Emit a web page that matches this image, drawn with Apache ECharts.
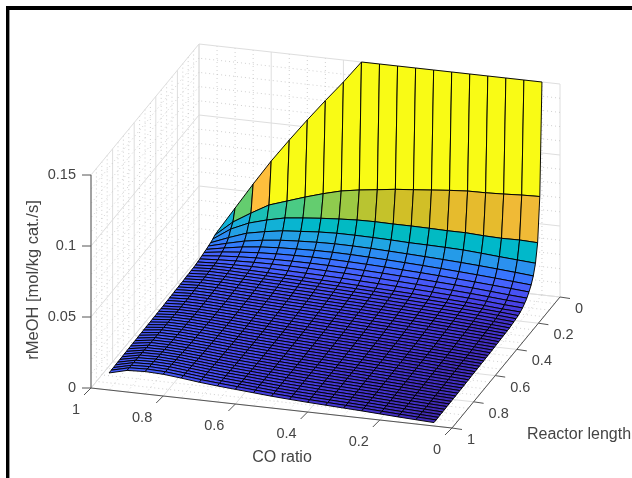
<!DOCTYPE html>
<html><head><meta charset="utf-8">
<style>html,body{margin:0;padding:0;background:#fff}#c{width:632px;height:478px;filter:blur(0.35px)}</style>
<script src="https://cdn.jsdelivr.net/npm/echarts@6/dist/echarts.min.js"></script>
</head><body><div id="c"></div>
<script>
const coRatio=[.05,.1,.15,.2,.25,.3,.35,.4,.45,.5,.55,.6,.65,.7,.75,.8,.85,.9,.95];
const r000=[.15,.15,.15,.15,.15,.15,.15,.15,.15,.15,.15,.1345,.12,.105,.0894,.0732,.0556,.0373,.019];
const r002=[.0712,.0708,.0701,.0696,.0694,.0685,.0673,.0661,.065,.0633,.0617,.0596,.0563,.0525,.0483,.0441,.037,.0293,.0187];
const r004=[.0405,.041,.0408,.0412,.0419,.0419,.0422,.0424,.0424,.0426,.0424,.0417,.0408,.0396,.0382,.0354,.0318,.0262,.0177];
const r006=[.0279,.0288,.0297,.0307,.0316,.032,.0323,.0325,.033,.0333,.0335,.0335,.033,.032,.031,.029,.0265,.022,.017];
const r008=[.0208,.0219,.0229,.0238,.0246,.0253,.0259,.0265,.027,.0275,.0278,.0279,.0276,.027,.0262,.0248,.0228,.0198,.0165];
const r010=[.0163,.0173,.0183,.0192,.02,.0208,.0215,.0221,.0227,.0232,.0236,.0238,.0237,.0233,.0228,.0219,.0205,.0184,.016];
const r012=[.0132,.0142,.0151,.016,.0168,.0176,.0183,.0189,.0195,.02,.0204,.0207,.0208,.0206,.0203,.0197,.0187,.0174,.0157];
const r014=[.0107,.0116,.0126,.0136,.0144,.0151,.0158,.0164,.017,.0175,.0179,.0182,.0184,.0184,.0182,.0179,.0173,.0164,.0152];
const r016=[.0089,.0097,.0107,.0116,.0124,.0131,.0138,.0144,.015,.0155,.016,.0163,.0166,.0168,.0168,.0166,.0162,.0156,.0148];
const r018=[.0075,.0083,.0093,.0102,.0109,.0116,.0122,.0128,.0133,.0138,.0143,.0147,.015,.0153,.0155,.0155,.0153,.0151,.0145];
const r020=[.0065,.0072,.0082,.009,.0097,.0103,.0109,.0114,.0119,.0125,.013,.0134,.0138,.0141,.0144,.0147,.015,.015,.0142];
const r022=[.0058,.0068,.0077,.0085,.0092,.0098,.0104,.0109,.0115,.012,.0125,.0129,.0134,.0138,.0141,.0144,.0148,.0149,.0141];
const r024=[.0054,.0064,.0073,.0081,.0088,.0094,.01,.0105,.0111,.0116,.0121,.0126,.013,.0135,.0138,.0142,.0146,.0148,.014];
const r026=[.0051,.006,.0069,.0077,.0084,.009,.0096,.0102,.0107,.0112,.0118,.0123,.0127,.0132,.0136,.014,.0144,.0146,.0139];
const r028=[.0048,.0057,.0066,.0074,.0081,.0087,.0093,.0099,.0104,.0109,.0115,.012,.0124,.0129,.0134,.0138,.0143,.0145,.0138];
const r030=[.0045,.0054,.0063,.0071,.0078,.0085,.0091,.0096,.0102,.0107,.0112,.0117,.0122,.0127,.0132,.0137,.0142,.0144,.0137];
const r032=[.0044,.0053,.0061,.0069,.0076,.0083,.0089,.0094,.01,.0105,.011,.0115,.012,.0125,.013,.0135,.0141,.0143,.0136];
const r034=[.0043,.0052,.006,.0068,.0075,.0081,.0087,.0092,.0098,.0103,.0108,.0113,.0118,.0123,.0129,.0134,.014,.0142,.0136];
const r036=[.0042,.0051,.0059,.0066,.0073,.0079,.0085,.0091,.0096,.0101,.0106,.0112,.0117,.0122,.0127,.0133,.0139,.0142,.0135];
const r038=[.0041,.005,.0058,.0065,.0072,.0078,.0084,.0089,.0095,.01,.0105,.011,.0115,.0121,.0126,.0132,.0138,.0141,.0135];
const r040=[.004,.0049,.0056,.0063,.007,.0076,.0082,.0087,.0093,.0098,.0103,.0108,.0114,.012,.0126,.0131,.0137,.014,.0134];
const r042=[.0039,.0047,.0055,.0062,.0068,.0074,.008,.0086,.0091,.0096,.0102,.0107,.0113,.0119,.0125,.013,.0137,.014,.0133];
const r044=[.0038,.0046,.0054,.006,.0067,.0073,.0079,.0084,.009,.0095,.01,.0106,.0112,.0118,.0124,.013,.0136,.0139,.0132];
const r046=[.0037,.0045,.0053,.0059,.0065,.0071,.0077,.0083,.0088,.0093,.0099,.0105,.0111,.0117,.0124,.013,.0136,.0138,.0132];
const r048=[.0036,.0044,.0051,.0058,.0064,.007,.0076,.0081,.0087,.0092,.0097,.0103,.011,.0117,.0124,.013,.0135,.0138,.0131];
const r050=[.0035,.0042,.005,.0056,.0062,.0068,.0074,.008,.0085,.009,.0096,.0102,.0109,.0116,.0124,.013,.0135,.0137,.013];
const r052=[.0035,.0042,.0049,.0056,.0062,.0067,.0073,.0079,.0084,.0089,.0095,.0101,.0108,.0115,.0123,.013,.0136,.0138,.013];
const r054=[.0034,.0041,.0048,.0055,.0061,.0067,.0073,.0078,.0083,.0089,.0095,.0101,.0108,.0115,.0123,.013,.0136,.0138,.013];
const r056=[.0034,.0041,.0048,.0054,.006,.0066,.0072,.0078,.0083,.0088,.0094,.01,.0107,.0115,.0123,.0131,.0137,.0139,.0129];
const r058=[.0033,.004,.0047,.0054,.006,.0066,.0071,.0077,.0082,.0088,.0094,.01,.0107,.0115,.0123,.0131,.0138,.0139,.0129];
const r060=[.0033,.004,.0047,.0053,.0059,.0065,.0071,.0076,.0081,.0087,.0093,.01,.0107,.0114,.0124,.0132,.0138,.014,.0129];
const r062=[.0032,.0039,.0046,.0053,.0059,.0065,.007,.0076,.0081,.0087,.0093,.0099,.0106,.0114,.0124,.0132,.0139,.014,.0128];
const r064=[.0032,.0038,.0045,.0052,.0058,.0064,.007,.0075,.008,.0086,.0092,.0099,.0106,.0114,.0124,.0133,.0139,.0141,.0128];
const r066=[.0031,.0037,.0044,.0051,.0057,.0063,.0069,.0074,.008,.0086,.0092,.0099,.0106,.0115,.0125,.0133,.014,.0141,.0128];
const r068=[.003,.0037,.0043,.005,.0057,.0063,.0069,.0074,.0079,.0085,.0092,.0099,.0106,.0115,.0125,.0134,.0141,.0142,.0127];
const r070=[.003,.0036,.0043,.005,.0056,.0062,.0068,.0073,.0079,.0085,.0091,.0099,.0107,.0115,.0125,.0134,.0141,.0142,.0127];
const r072=[.0029,.0035,.0042,.0049,.0056,.0062,.0067,.0073,.0078,.0084,.0091,.0099,.0107,.0116,.0126,.0135,.0142,.0143,.0127];
const r074=[.0028,.0034,.0041,.0048,.0055,.0061,.0067,.0072,.0078,.0084,.0091,.0099,.0107,.0116,.0126,.0135,.0142,.0143,.0126];
const r076=[.0028,.0034,.0041,.0048,.0055,.0061,.0067,.0072,.0078,.0084,.0091,.0099,.0107,.0116,.0127,.0136,.0143,.0144,.0126];
const r078=[.0028,.0034,.004,.0047,.0054,.006,.0066,.0071,.0078,.0084,.0091,.0099,.0108,.0117,.0128,.0137,.0144,.0145,.0126];
const r080=[.0027,.0033,.004,.0047,.0054,.006,.0066,.0071,.0077,.0084,.0091,.01,.0108,.0118,.0129,.0139,.0145,.0145,.0125];
const r082=[.0027,.0033,.0039,.0046,.0053,.0059,.0065,.0071,.0077,.0084,.0091,.01,.0108,.0118,.013,.014,.0147,.0146,.0125];
const r084=[.0026,.0032,.0039,.0046,.0053,.0059,.0065,.007,.0077,.0084,.0092,.01,.0109,.0119,.0131,.0142,.0148,.0147,.0124];
const r086=[.0026,.0032,.0038,.0045,.0052,.0058,.0064,.007,.0076,.0084,.0092,.0101,.011,.012,.0132,.0144,.015,.0148,.0124];
const r088=[.0026,.0032,.0038,.0045,.0052,.0058,.0064,.007,.0076,.0084,.0092,.0101,.011,.0121,.0134,.0145,.0151,.0149,.0123];
const r090=[.0025,.0031,.0037,.0044,.0051,.0057,.0063,.0069,.0076,.0083,.0092,.0102,.0111,.0122,.0135,.0147,.0153,.0149,.0123];
const r092=[.0025,.0031,.0037,.0044,.0051,.0057,.0063,.0069,.0075,.0083,.0092,.0102,.0111,.0123,.0136,.0149,.0154,.015,.0122];
const r094=[.0025,.0031,.0037,.0044,.0051,.0057,.0063,.0069,.0075,.0083,.0093,.0102,.0112,.0123,.0137,.015,.0155,.0151,.0122];
const r096=[.0024,.003,.0036,.0043,.005,.0056,.0062,.0068,.0075,.0083,.0093,.0103,.0112,.0124,.0138,.0151,.0156,.0151,.0121];
const r098=[.0024,.003,.0036,.0043,.005,.0056,.0062,.0068,.0075,.0083,.0093,.0103,.0113,.0124,.0139,.0152,.0157,.0152,.0121];
const r100=[.0024,.003,.0036,.0043,.005,.0056,.0062,.0068,.0075,.0083,.0093,.0103,.0113,.0125,.014,.0153,.0158,.0152,.012];
const rateRows=[r000,r002,r004,r006,r008,r010,r012,r014,r016,r018,r020,r022,r024,r026,r028,r030,r032,r034,r036,r038,r040,r042,r044,r046,r048,r050,r052,r054,r056,r058,r060,r062,r064,r066,r068,r070,r072,r074,r076,r078,r080,r082,r084,r086,r088,r090,r092,r094,r096,r098,r100];
const reactorLength=[0,.02,.04,.06,.08,.1,.12,.14,.16,.18,.2,.22,.24,.26,.28,.3,.32,.34,.36,.38,.4,.42,.44,.46,.48,.5,.52,.54,.56,.58,.6,.62,.64,.66,.68,.7,.72,.74,.76,.78,.8,.82,.84,.86,.88,.9,.92,.94,.96,.98,1];
const coTicks=[1,.8,.6,.4,.2,0];
const coTickLabels=['1','0.8','0.6','0.4','0.2','0'];
const lenTicks=[0,.2,.4,.6,.8,1];
const lenTickLabels=['0','0.2','0.4','0.6','0.8','1'];
const rateTicks=[0,.05,.1,.15];
const rateTickLabels=['0','0.05','0.1','0.15'];

const parula=[[.2422,.1504,.6603],[.2504,.165,.7076],[.2578,.1818,.7511],[.2647,.1978,.7952],[.2706,.2147,.8364],[.2751,.2342,.871],[.2783,.2559,.8991],[.2803,.2782,.9221],[.2813,.3006,.9414],[.281,.3228,.9579],[.2795,.3447,.9717],[.276,.3667,.9829],[.2699,.3892,.9906],[.2602,.4123,.9952],[.244,.4358,.9988],[.2206,.4603,.9973],[.1963,.4847,.9892],[.1834,.5074,.9798],[.1786,.5289,.9682],[.1764,.5499,.952],[.1687,.5703,.9359],[.154,.5902,.9218],[.146,.6091,.9079],[.138,.6276,.8973],[.1248,.6459,.8883],[.1113,.6635,.8763],[.0952,.6798,.8598],[.0689,.6948,.8394],[.0297,.7082,.8163],[.0036,.7203,.7917],[.0067,.7312,.766],[.0433,.7411,.7394],[.0964,.75,.712],[.1408,.7584,.6842],[.1717,.767,.6554],[.1938,.7758,.6251],[.2161,.7843,.5923],[.247,.7918,.5567],[.2906,.7973,.5188],[.3406,.8008,.4789],[.3909,.8029,.4354],[.4456,.8024,.3909],[.5044,.7993,.348],[.5616,.7942,.3045],[.6174,.7876,.2612],[.672,.7793,.2227],[.7242,.7698,.191],[.7738,.7598,.1646],[.8203,.7498,.1535],[.8634,.7406,.1596],[.9035,.733,.1774],[.9393,.7288,.21],[.9728,.7298,.2394],[.9956,.7434,.2371],[.997,.7659,.2199],[.9952,.7893,.2028],[.9892,.8136,.1885],[.9786,.8386,.1766],[.9676,.8639,.1643],[.961,.889,.1537],[.9597,.9135,.1423],[.9628,.9373,.1265],[.9691,.9606,.1064],[.9769,.9839,.0805]];
const colorLimit=.088;
function colorOf(z){
  const k=Math.min(63,Math.max(0,Math.floor(z/colorLimit*64))),p=parula[k];
  return 'rgb('+p.map(v=>Math.round(v*255)).join(',')+')';
}
// orthographic view: pixel position of a (CO ratio, length, rate) point
function project(co,len,z){
  const u=1-len;
  return [452-361*co+108*u, 428-40*co-131*u-1420*z];
}
const GRID='#dedede', DOT='#c4c4c4', AXIS='#555555', TEXT='#444444';
const lines=[];
function seg(a,b,stroke,width,dash){lines.push({a,b,stroke,width,dash});}
// walls: floor z=0, back L=0, side CO=1
for(let i=0;i<=20;i++){
  const t=i/20, major=i%4===0;
  const st=major?GRID:DOT,w=major?1:.8,d=major?null:[1,3];
  seg([t,0,0],[t,1,0],st,w,d);
  seg([t,0,0],[t,0,.15],st,w,d);
  seg([0,t,0],[1,t,0],st,w,d);
  seg([1,t,0],[1,t,.15],st,w,d);
}
for(let i=0;i<=15;i++){
  const z=i/100, major=i%5===0;
  const st=major?GRID:DOT,w=major?1:.8,d=major?null:[1,3];
  seg([0,0,z],[1,0,z],st,w,d);
  seg([1,0,z],[1,1,z],st,w,d);
}
// axes and ticks
seg([1,1,0],[0,1,0],AXIS,1);
seg([0,1,0],[0,0,0],AXIS,1);
seg([1,1,0],[1,1,.15],AXIS,1);
const ticks=[],labels=[];
coTicks.forEach((c,i)=>{const p=project(c,1,0);ticks.push([p,[p[0]-7,p[1]+7]]);labels.push({p:[p[0]-11,p[1]+22],t:coTickLabels[i],al:'right'});});
lenTicks.forEach((l,i)=>{const p=project(0,l,0);ticks.push([p,[p[0]+10,p[1]+1.5]]);labels.push({p:[p[0]+15,p[1]+12],t:lenTickLabels[i],al:'left'});});
rateTicks.forEach((z,i)=>{const p=project(1,1,z);ticks.push([p,[p[0]-9,p[1]]]);labels.push({p:[p[0]-15,p[1]],t:rateTickLabels[i],al:'right'});});

// cells, far to near
const cells=[];
for(let j=0;j<reactorLength.length-1;j++){
  for(let i=coRatio.length-2;i>=0;i--) cells.push([i,j]);
}
const chart=echarts.init(document.getElementById('c'),null,{renderer:'canvas'});
chart.setOption({
  animation:false,
  backgroundColor:'#fff',
  grid:{left:0,right:0,top:0,bottom:0},
  xAxis:{type:'value',min:0,max:632,show:false},
  yAxis:{type:'value',min:0,max:478,inverse:true,show:false},
  tooltip:{show:false},
  graphic:[
    {type:'rect',shape:{x:6,y:6,width:626,height:4},style:{fill:'#000'},silent:true},
    {type:'rect',shape:{x:6,y:6,width:3.4,height:472},style:{fill:'#000'},silent:true},
    {type:'text',x:282,y:458,style:{text:'CO ratio',font:'16px "Liberation Sans"',fill:TEXT,align:'center',verticalAlign:'middle'},silent:true},
    {type:'text',x:527,y:435,style:{text:'Reactor length',font:'16px "Liberation Sans"',fill:TEXT,align:'left',verticalAlign:'middle'},silent:true},
    {type:'text',x:33,y:280,rotation:Math.PI/2,style:{text:'rMeOH [mol/kg cat./s]',font:'16.5px "Liberation Sans"',fill:TEXT,align:'center',verticalAlign:'middle'},silent:true}
  ],
  series:[
    {type:'custom',coordinateSystem:'cartesian2d',silent:true,clip:false,progressive:0,z:1,
     data:lines.map((l,i)=>[i]),
     renderItem:(p,api)=>{
       const l=lines[api.value(0)],a=api.coord(project(...l.a)),b=api.coord(project(...l.b));
       return {type:'line',shape:{x1:a[0],y1:a[1],x2:b[0],y2:b[1]},style:{stroke:l.stroke,lineWidth:l.width,lineDash:l.dash||null}};
     }},
    {type:'custom',coordinateSystem:'cartesian2d',silent:true,clip:false,progressive:0,z:2,
     data:ticks.map((l,i)=>[i]),
     renderItem:(p,api)=>{
       const t=ticks[api.value(0)],a=api.coord(t[0]),b=api.coord(t[1]);
       return {type:'line',shape:{x1:a[0],y1:a[1],x2:b[0],y2:b[1]},style:{stroke:AXIS,lineWidth:1}};
     }},
    {type:'custom',coordinateSystem:'cartesian2d',silent:true,clip:false,progressive:0,z:2,
     data:labels.map((l,i)=>[i]),
     renderItem:(p,api)=>{
       const l=labels[api.value(0)],a=api.coord(l.p);
       return {type:'text',x:a[0],y:a[1],style:{text:l.t,font:'14.5px "Liberation Sans"',fill:TEXT,align:l.al,verticalAlign:'middle'}};
     }},
    {type:'custom',coordinateSystem:'cartesian2d',silent:true,clip:false,progressive:0,z:3,
     data:cells,
     renderItem:(p,api)=>{
       const i=api.value(0),j=api.value(1);
       const pt=(a,b)=>api.coord(project(coRatio[a],reactorLength[b],rateRows[b][a]));
       return {type:'polygon',shape:{points:[pt(i,j),pt(i+1,j),pt(i+1,j+1),pt(i,j+1)]},
         style:{fill:colorOf(rateRows[j][i]),stroke:'#000',lineWidth:.95,lineJoin:'round'}};
     }}
  ]
});
</script></body></html>
